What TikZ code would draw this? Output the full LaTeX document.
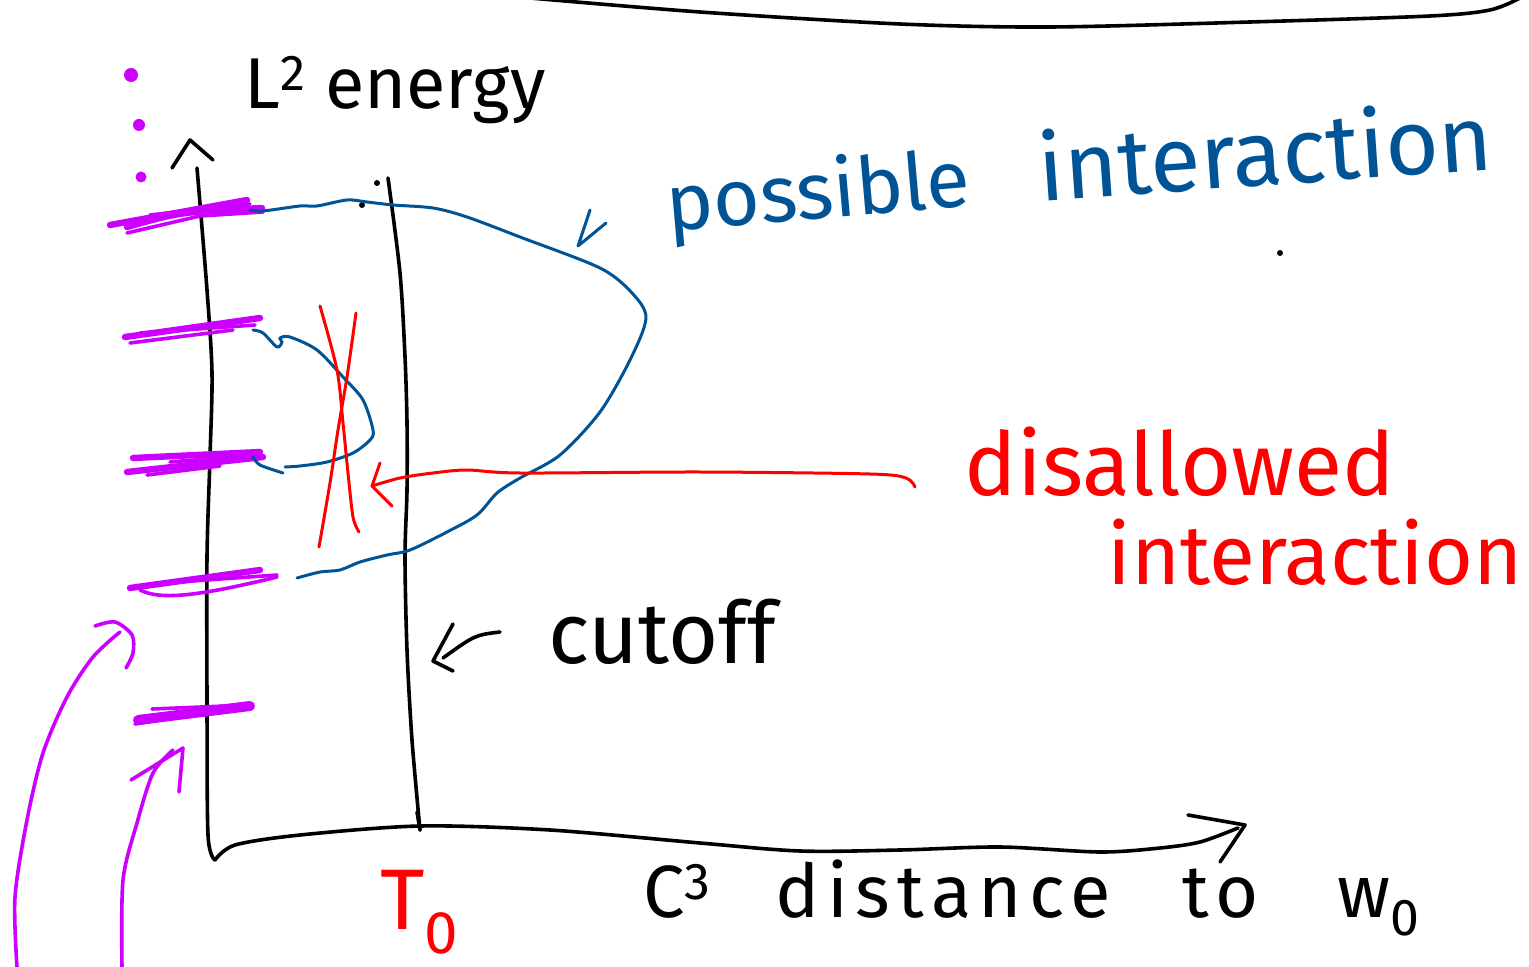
\documentclass[tikz,border=0pt]{standalone}
\usepackage{fontspec}
\setmainfont{Fira Sans}
\usetikzlibrary{calc}
\definecolor{pmag}{RGB}{204,0,255}
\definecolor{pblue}{RGB}{0,84,150}
\definecolor{pred}{RGB}{255,0,0}
\begin{document}
\begin{tikzpicture}[x=0.5pt,y=-0.5pt,line cap=round,line join=round,
  ink/.style={line width=1.8pt,black},
  blueink/.style={line width=1.5pt,pblue},
  redink/.style={line width=1.5pt,pred},
  magink/.style={line width=3.2pt,pmag},
  magthin/.style={line width=1.8pt,pmag},
  lbl/.style={inner sep=0pt,anchor=center},
  bigtxt/.style={font=\fontsize{43}{45}\selectfont}]
\useasboundingbox (0,0) rectangle (1529,967);

% top frame line
\draw[ink] plot[smooth] coordinates {(530,-2) (700,12) (900,24) (1050,27) (1250,22) (1430,16) (1490,10) (1520,-2)};

% named points
\coordinate (O) at (215,860);
\coordinate (ytop) at (197,168);
\coordinate (xend) at (1238,828);
\coordinate (cutT) at (388,178);
\coordinate (cutB) at (420,830);

% y axis
\draw[ink] plot[smooth] coordinates {(O) (208,835) (207,700) (207,557) (210,457) (212,373) (207,290) (ytop)};
\draw[ink] (172,168) -- (190,140) -- (213,160);
% x axis
\draw[ink] plot[smooth] coordinates {(O) (235,845) (300,835) (420,826) (550,830) (700,843) (800,851) (900,850) (1000,847) (1100,852) (1160,848) (1200,842) (xend)};
\draw[ink] (1188,815) -- (1245,825) -- (1220,862);
% cutoff line
\draw[ink] plot[smooth] coordinates {(cutT) (400,273) (405,357) (407,423) (407,490) (405,557) (407,650) (412,740) (cutB)};
\draw[ink] (417,812) -- (420,830);
% small black dots
\fill (377,183) circle (3);
\fill (362,205) circle (3);
\fill (1280,253) circle (3);

% magenta dots
\fill[pmag] (131,75) circle (7);
\fill[pmag] (139,125) circle (6);
\fill[pmag] (141,177) circle (5.5);

% magenta ticks
\draw[magink] (110,225) -- (247,200);
\draw[magink] (127,227) .. controls (180,212) .. (262,208);
\draw[magthin] (127,233) -- (200,216) -- (263,212);
\draw[magthin] (150,215) -- (250,204);
\draw[magink] (125,337) -- (260,318);
\draw[magthin] (130,343) -- (233,330);
\draw[magthin] (140,333) -- (255,325);
\draw[magink] (133,458) -- (260,452);
\draw[magink] (127,472) -- (263,457);
\draw[magthin] (147,475) -- (220,466);
\draw[magthin] (170,462) -- (255,455);
\draw[magink] (130,588) -- (260,570);
\draw[magthin] (140,590) .. controls (160,600) and (195,597) .. (277,577);
\draw[magthin] (150,584) -- (277,575);
\draw[line width=5pt,pmag] (138,720) -- (250,706);
\draw[magthin] (152,709) -- (250,705);
\draw[magthin] (135,724) -- (200,714);

% possible interaction region
\draw[blueink] plot[smooth] coordinates {(250,210) (263,211) (300,206) (317,206) (347,200) (367,202) (393,205) (433,208) (467,217) (520,237) (600,268) (632,293) (646,318) (630,360) (600,412) (560,455) (520,478) (497,493) (477,515) (447,532) (410,550) (387,555) (360,562) (340,570) (320,572) (297,578)};
\draw[blueink] plot[smooth] coordinates {(253,330) (263,333) (277,347) (282,342) (280,338) (290,337) (317,350) (343,377) (363,400) (373,430) (370,440) (353,453) (327,462) (300,466) (285,467)};
\draw[blueink] plot[smooth] coordinates {(253,457) (260,465) (283,473)};
% blue pointer
\draw[blueink] (590,210) -- (578,246) -- (606,223);

% red X
\draw[redink] plot[smooth] coordinates {(320,306) (337,370) (343,423) (348,473) (353,517) (359,532)};
\draw[redink] plot[smooth] coordinates {(356,313) (347,377) (338,430) (330,483) (319,547)};

% texts
\node[lbl,font=\fontsize{36}{38}\selectfont] (lenergy) at (395,90) {L\textsuperscript{2} energy};
\node[lbl,font=\fontsize{40}{42}\selectfont,text=pblue,rotate=5] (possible) at (818,196) {possible};
\node[lbl,font=\fontsize{46}{48}\selectfont,text=pblue,rotate=4] (interact1) at (1265,150) {interaction};
\node[lbl,font=\fontsize{44}{46}\selectfont,text=pred] (disallowed) at (1180,462) {disallowed};
\node[lbl,font=\fontsize{42}{44}\selectfont,text=pred] (interaction) at (1315,552) {interaction};
\node[lbl,bigtxt] (cutoff) at (662,632) {cutoff};
\node[lbl,bigtxt,text=pred] (T0) at (420,912) {T\textsubscript{0}};
\node[lbl,font=\fontsize{37}{40}\selectfont\addfontfeatures{LetterSpace=10}] (dist) at (1032,898) {C\textsuperscript{3}\hspace{0.5em} distance\hspace{0.6em} to\hspace{0.7em} w\textsubscript{0}};

% red arrow from disallowed to X
\coordinate (redtail) at (915,487);
\coordinate (redtip) at (372,486);
\draw[redink] plot[smooth] coordinates {(redtail) (906,478) (870,474) (700,472) (520,473) (467,470) (433,473) (400,478) (redtip)};
\draw[redink] (380,463) -- (redtip) -- (392,506);

% cutoff arrow
\coordinate (cuttail) at (500,632);
\coordinate (cuttip) at (433,661);
\draw[ink] (cuttail) .. controls (475,635) .. (443,658);
\draw[ink] (453,624) -- (cuttip) -- (453,671);

% magenta arrows bottom left
\coordinate (m1s) at (17,967);
\coordinate (m2s) at (122,967);
\draw[magthin] plot[smooth] coordinates {(m1s) (15,897) (27,820) (43,753) (67,697) (93,657) (120,632)};
\draw[magthin] plot[smooth] coordinates {(95,626) (115,622) (132,635) (133,653) (126,668)};
\draw[magthin] plot[smooth] coordinates {(m2s) (123,880) (137,823) (153,773) (173,750)};
\draw[magthin] (131,780) -- (183,748) -- (179,792);
\end{tikzpicture}
\end{document}
